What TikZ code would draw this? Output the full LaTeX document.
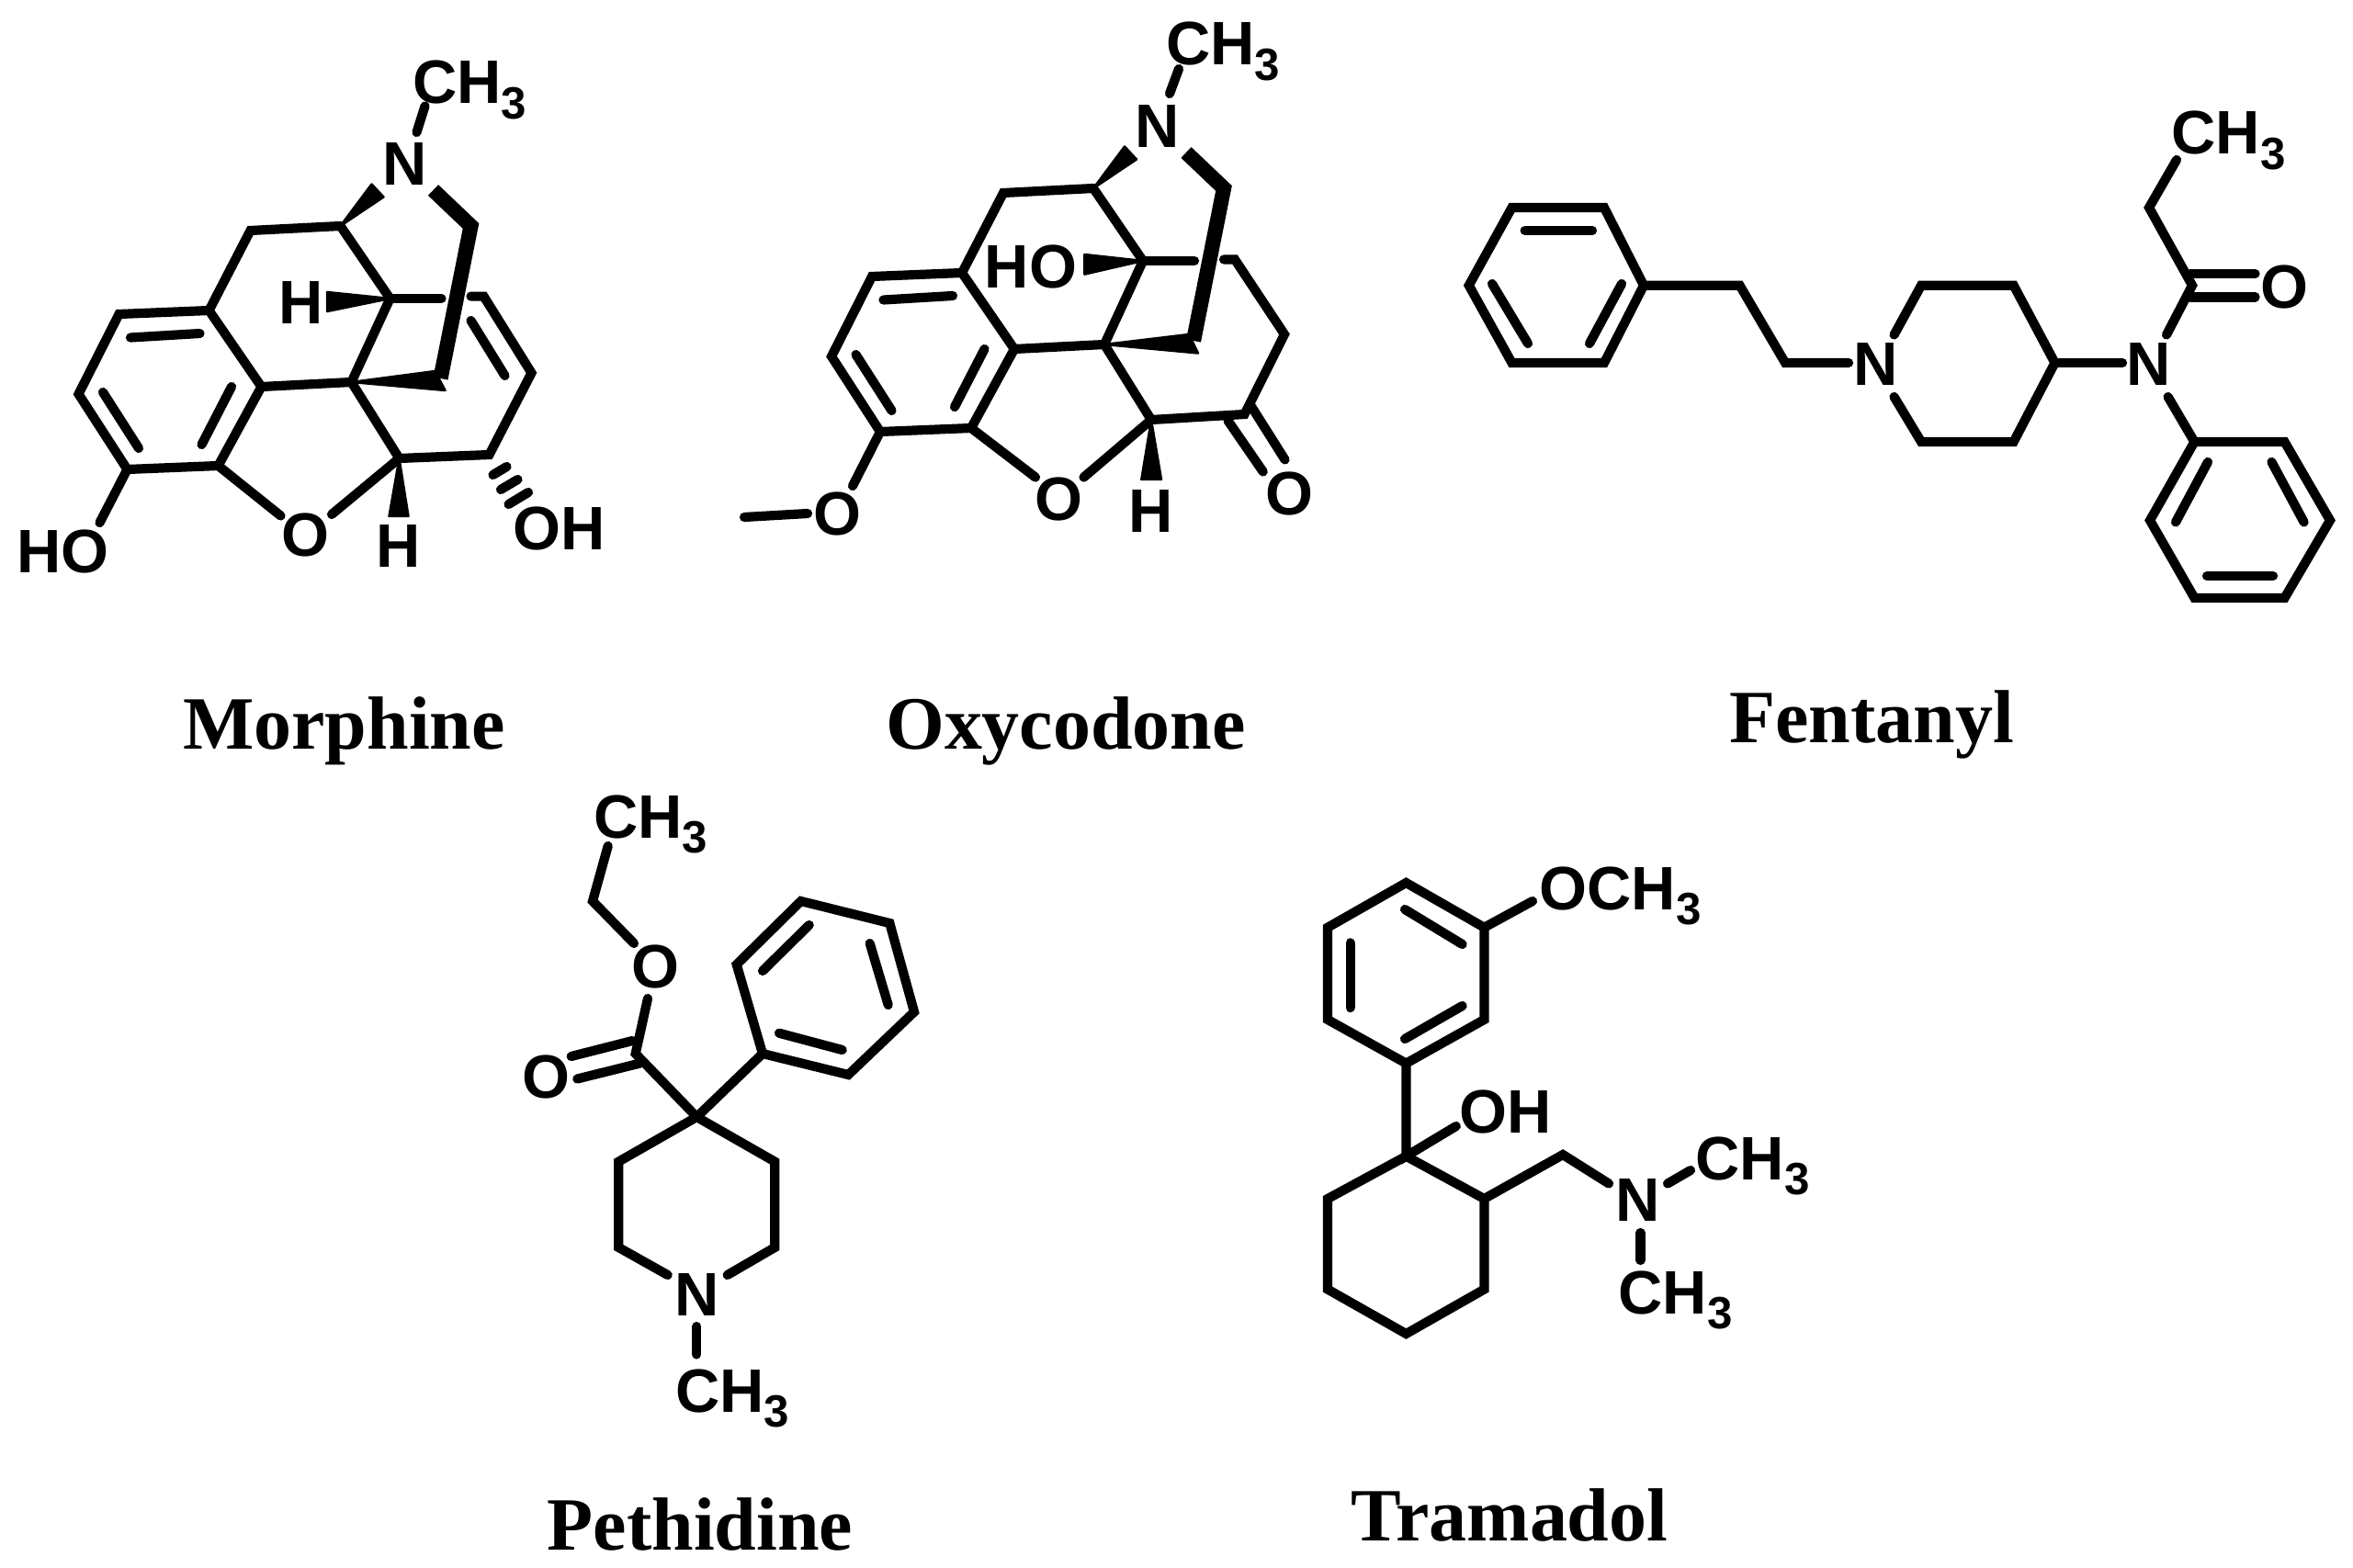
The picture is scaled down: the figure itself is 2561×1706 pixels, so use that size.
\documentclass[tikz,border=0pt]{standalone}
\usepackage{fontspec}
\setmainfont{Liberation Serif}
\setsansfont{Liberation Sans}
\usetikzlibrary{positioning}

\newcommand{\subthree}{\raisebox{-0.25em}{\fontsize{14}{14}\selectfont 3}}

\tikzset{
  bond/.style={line width=2.9pt,line cap=round,line join=miter},
  boldbond/.style={line width=4.6pt,line cap=butt,line join=miter},
  wedgebond/.style={fill=black,draw=black,line width=0.7pt,line join=round},
  atom/.style={font=\fontsize{19}{22}\sffamily\bfseries,inner sep=0pt},
  methyl/.style={atom,anchor=base west},
  title/.style={font=\fontsize{23.3}{26}\rmfamily\bfseries,inner sep=0pt,anchor=base}
}

\begin{document}
\begin{tikzpicture}[x=0.01cm,y=-0.01cm]
  \useasboundingbox (0,0) rectangle (2561,1706);

  % Morphine
  \begin{scope}[shift={(-1.5,0)}]
  \foreach \n/\x/\y in {a/372/246,b/274/251,c/229/338,d/131/342,e/87/429,f/140/511,g/239/507,h/286/421,
      i/384/416,j/426/325,k/482/325,l/514/246,u/481/412,p/436/499,q/534/495,r/580/406,s/528/322.6,t/514/322.6,
      Nb/473/207,Ma/455/144,Mb/464/115.5,Oa/307/561.5,Ob/362.5/560,Hc/110/569,
      wa/406/200.5,wb/419/214.5,wc/357.5/318,wd/357.5/339,we/475/404,wf/486/425,wg/425/562,wh/446/562,
      da/143.5/367.5,db/219/363,dc/113.5/427,dd/152.5/488,de/253.5/421,df/221/484,dg/514/349,dh/551/409,
      ha/538/517,hb/553/508,hc/546.5/533,hd/565/522,he/555/549,hf/576.5/536}
    {\coordinate (m\n) at (\x,\y);}

  \draw[bond] (ma) -- (mb) -- (mc) -- (md) -- (me) -- (mf) -- (mg) -- (mh) -- (mc);
  \draw[bond] (mh) -- (mi) -- (mj) -- (ma);
  \draw[bond] (mj) -- (mk);
  \draw[bond] (mi) -- (mp) -- (mq) -- (mr) -- (ms) -- (mt);
  \draw[bond] (mg) -- (mOa);
  \draw[bond] (mp) -- (mOb);
  \draw[bond] (mf) -- (mHc);
  \draw[bond] (mMa) -- (mMb);
  \foreach \s/\e in {da/db,dc/dd,de/df,dg/dh,ha/hb,hc/hd,he/hf}
    \draw[bond] (m\s) -- (m\e);
  \draw[boldbond] (mNb) -- (ml) -- (mu);
  \filldraw[wedgebond] (ma) -- (mwa) -- (mwb) -- cycle;
  \filldraw[wedgebond] (mj) -- (mwc) -- (mwd) -- cycle;
  \filldraw[wedgebond] (mi) -- (mwe) -- (mwf) -- cycle;
  \filldraw[wedgebond] (mp) -- (mwg) -- (mwh) -- cycle;

  \node[atom] (mN) at (442,179) {N};
  \node[methyl] (mCH) at (450,113) {CH\subthree};
  \node[atom] (mHa) at (329,330) {H};
  \node[atom] (mO) at (334,582) {O};
  \node[atom] (mHb) at (435,595) {H};
  \node[atom] (mOH) at (610,575) {OH};
  \node[atom] (mHO) at (70,600) {HO};
  \node[title] (mname) at (376,815) {Morphine};
  \end{scope}

  % Oxycodone
  \begin{scope}[shift={(-2,0)}]
  \foreach \n/\x/\y in {a/1192/205,b/1094/210,c/1049/297,d/951/301,e/907/388,f/960/470,g/1059/466,h/1106/380,
      i/1204/375,j/1246/284,k/1302/284,l/1334/205,u/1301/371,p/1255/457,q/1356.5/451,r/1400/364,s/1346/282.5,t/1334/282.5,
      Nb/1293/166,Ma/1275/102,Mb/1285/75,Oa/1129/519.6,Ob/1181.5/519.6,Oc/930/529,Me/881/559,Mf/812/563,
      ka/1338.5/458,kb/1376.7/513.5,kc/1363/441,kd/1400.5/500.4,
      wa/1226/159.5,wb/1239/173.5,wc/1182.4/277,wd/1182.4/298.6,we/1296/364,wf/1306/384.5,wg/1244.3/522,wh/1266/522,
      da/963.5/326.5,db/1039/322,dc/933.5/386,dd/972.5/447,de/1073.5/380,df/1041/443}
    {\coordinate (o\n) at (\x,\y);}

  \draw[bond] (oa) -- (ob) -- (oc) -- (od) -- (oe) -- (of) -- (og) -- (oh) -- (oc);
  \draw[bond] (oh) -- (oi) -- (oj) -- (oa);
  \draw[bond] (oj) -- (ok);
  \draw[bond] (oi) -- (op) -- (oq) -- (or) -- (os) -- (ot);
  \draw[bond] (og) -- (oOa);
  \draw[bond] (op) -- (oOb);
  \draw[bond] (of) -- (oOc);
  \draw[bond] (oMa) -- (oMb);
  \draw[bond] (oMe) -- (oMf);
  \foreach \s/\e in {da/db,dc/dd,de/df,ka/kb,kc/kd}
    \draw[bond] (o\s) -- (o\e);
  \draw[boldbond] (oNb) -- (ol) -- (ou);
  \filldraw[wedgebond] (oa) -- (owa) -- (owb) -- cycle;
  \filldraw[wedgebond] (oj) -- (owc) -- (owd) -- cycle;
  \filldraw[wedgebond] (oi) -- (owe) -- (owf) -- cycle;
  \filldraw[wedgebond] (op) -- (owg) -- (owh) -- cycle;

  \node[atom] (oN) at (1262,138) {N};
  \node[methyl] (oCH) at (1270.6,71) {CH\subthree};
  \node[atom] (oHO) at (1124,290) {HO};
  \node[atom] (oO) at (1154,543) {O};
  \node[atom] (oOk) at (1405,537) {O};
  \node[atom] (oH) at (1254.6,557) {H};
  \node[atom] (oOm) at (913,559) {O};
  \node[title] (oname) at (1162,815) {Oxycodone};
  \end{scope}

  % Fentanyl
  \begin{scope}[shift={(-3,-2)}]
  \foreach \n/\x/\y in {a/1648.5/228,b/1749/228,c/1792/312.7,d/1749/397,e/1648.5/397,f/1601.7/312.7,
      g/1896.5/312.7,h/1946/397,i/2015/397,
      j/2064.5/366.5,k/2094/312.7,l/2194.6/312.7,m/2239.5/397,n/2194.6/483,o/2094/483,p/2064.5/434,q/2313/397,
      r/2361/366.5,s/2389/312.7,t/2342/228,u/2372/176,
      oa/2387/300,ob/2457.5/300,oc/2387/325.4,od/2457.5/325.4,
      v/2362.6/434,A/2391.4/483,B/2489.5/483,C/2539/568.5,D/2489.5/653,E/2391.4/653,F/2343/568.5,
      da/1662.6/253,db/1736/253,dc/1627/311,dd/1666/376,de/1768/311,df/1733/376,
      dg/2406/505,dh/2371/570.4,di/2475.4/505,dj/2510.6/570.4,dk/2405/629,dl/2477/629}
    {\coordinate (f\n) at (\x,\y);}

  \draw[bond] (fa) -- (fb) -- (fc) -- (fd) -- (fe) -- (ff) -- cycle;
  \draw[bond] (fc) -- (fg) -- (fh) -- (fi);
  \draw[bond] (fj) -- (fk) -- (fl) -- (fm) -- (fn) -- (fo) -- (fp);
  \draw[bond] (fm) -- (fq);
  \draw[bond] (fr) -- (fs) -- (ft) -- (fu);
  \draw[bond] (foa) -- (fob);
  \draw[bond] (foc) -- (fod);
  \draw[bond] (fv) -- (fA);
  \draw[bond] (fA) -- (fB) -- (fC) -- (fD) -- (fE) -- (fF) -- cycle;
  \foreach \s/\e in {da/db,dc/dd,de/df,dg/dh,di/dj,dk/dl}
    \draw[bond] (f\s) -- (f\e);

  \node[atom] (fNa) at (2045,399) {N};
  \node[atom] (fNb) at (2342,399) {N};
  \node[atom] (fO) at (2489.5,314.6) {O};
  \node[methyl] (fCH) at (2366,170) {CH\subthree};
  \node[title] (fname) at (2040,810) {Fentanyl};
  \end{scope}

  % Pethidine
  \foreach \n/\x/\y in {a/758.3/1216,b/673.3/1264.6,c/673.3/1358,d/726.7/1388,e/791.7/1388,f/843.3/1358,g/843.3/1264.6,
      h/758.3/1444,i/758.3/1474.5,
      j/691.7/1147,k/705/1087,l/690/1027,m/645/981,n/661.7/921,
      oa/621.7/1150,ob/688.3/1133,oc/628.3/1174.5,od/696.7/1157.5,
      p/830/1147,q/801.7/1050,r/871.7/981,s/968.3/1005,t/995/1101.6,u/923.3/1170,
      da/830/1057,db/880.7/1007,dc/946.7/1027,dd/966.7/1094,de/848/1124.7,df/916.7/1143}
    {\coordinate (p\n) at (\x,\y);}

  \draw[bond] (pd) -- (pc) -- (pb) -- (pa) -- (pg) -- (pf) -- (pe);
  \draw[bond] (ph) -- (pi);
  \draw[bond] (pa) -- (pj) -- (pk);
  \draw[bond] (pl) -- (pm) -- (pn);
  \draw[bond] (poa) -- (pob);
  \draw[bond] (poc) -- (pod);
  \draw[bond] (pa) -- (pp);
  \draw[bond] (pp) -- (pq) -- (pr) -- (ps) -- (pt) -- (pu) -- cycle;
  \foreach \s/\e in {da/db,dc/dd,de/df}
    \draw[bond] (p\s) -- (p\e);

  \node[atom] (pN) at (758.3,1409) {N};
  \node[methyl] (pCHa) at (734.7,1537) {CH\subthree};
  \node[atom] (pOa) at (594,1172) {O};
  \node[atom] (pOb) at (713,1052) {O};
  \node[methyl] (pCHb) at (645.5,912) {CH\subthree};
  \node[title] (pname) at (762,1687) {Pethidine};

  % Tramadol
  \foreach \n/\x/\y in {a/1530.4/961,b/1615.4/1009.7,c/1615.4/1110,d/1530.4/1157.6,e/1445/1110,f/1445/1009.7,
      g/1668/981,h/1530.4/1258.7,i/1584.8/1226,
      j/1615.4/1305,k/1615.4/1403.6,l/1530.4/1452,m/1445/1403.6,n/1445/1305,
      o/1701/1257,p/1751/1288.5,q/1815/1288.5,r/1840/1274,s/1785.5/1342,t/1785.5/1372,
      da/1529/990,db/1591.6/1028,dc/1469.6/1026.4,dd/1469.6/1097,de/1529/1131,df/1591.6/1095}
    {\coordinate (t\n) at (\x,\y);}

  \draw[bond] (ta) -- (tb) -- (tc) -- (td) -- (te) -- (tf) -- cycle;
  \draw[bond] (tb) -- (tg);
  \draw[bond] (td) -- (th) -- (ti);
  \draw[bond] (th) -- (tj) -- (tk) -- (tl) -- (tm) -- (tn) -- cycle;
  \draw[bond] (tj) -- (to) -- (tp);
  \draw[bond] (tq) -- (tr);
  \draw[bond] (ts) -- (tt);
  \foreach \s/\e in {da/db,dc/dd,de/df}
    \draw[bond] (t\s) -- (t\e);

  \node[methyl] (tOCH) at (1675,990) {OCH\subthree};
  \node[atom] (tOH) at (1639,1210) {OH};
  \node[atom] (tN) at (1783,1306) {N};
  \node[methyl] (tCHa) at (1845,1284) {CH\subthree};
  \node[methyl] (tCHb) at (1761,1430) {CH\subthree};
  \node[title] (tname) at (1643,1677) {Tramadol};
\end{tikzpicture}
\end{document}
